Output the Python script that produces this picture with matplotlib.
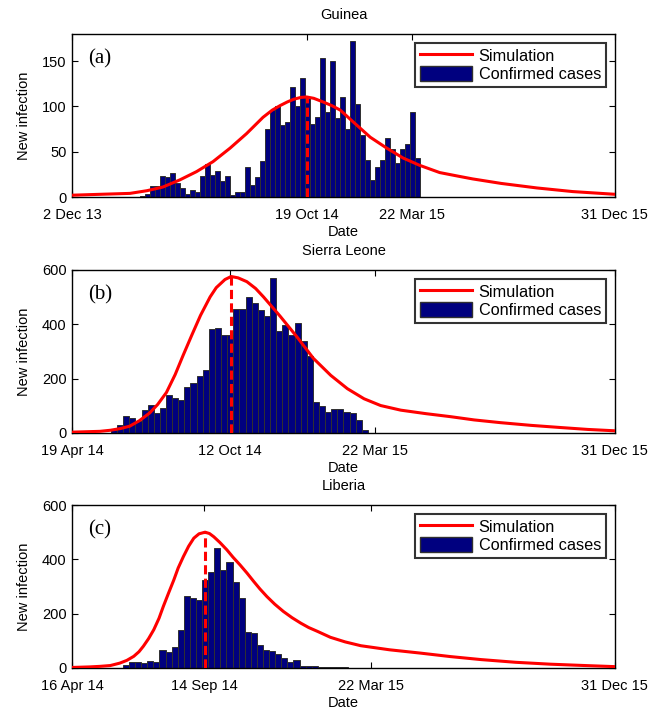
import numpy as np
import matplotlib.pyplot as plt
from matplotlib.patches import Patch
from matplotlib.lines import Line2D

plt.rcParams['font.family'] = ['Liberation Sans', 'DejaVu Sans']

# ---- Guinea: weekly confirmed cases, days counted from 2 Dec 13 ----
guinea_start = 98
guinea_cases = [1, 3, 12, 12, 23, 22, 27, 16, 10, 3, 8, 6, 23, 36, 24, 29, 18, 23, 2, 5,
                5, 33, 13, 22, 40, 75, 96, 101, 79, 83, 121, 100, 131, 110, 81, 88, 154, 94,
                150, 87, 111, 75, 172, 103, 69, 41, 19, 33, 41, 65, 53, 38, 53, 59, 94, 43]
guinea_sim_day = [0, 40, 81, 105, 127, 151, 174, 197, 221, 244, 267, 280, 291, 301, 310,
                  320, 328, 338, 351, 363, 375, 393, 417, 440, 463, 486, 514, 540, 560,
                  600, 650, 700, 759]
guinea_sim_val = [2, 3, 4, 7, 11, 19, 28, 39, 54, 70, 88, 96, 101, 105, 108,
                  110, 110.5, 109, 105, 101, 96, 83, 66, 54, 43, 35, 27, 23, 20,
                  15, 10, 6, 3]
guinea_peak = 328
guinea_ticks = [0, 328, 475, 759]
guinea_labels = ['2 Dec 13', '19 Oct 14', '22 Mar 15', '31 Dec 15']

# ---- Sierra Leone: days counted from 19 Apr 14 ----
sl_start = 48
sl_cases = [12, 28, 61, 56, 45, 84, 103, 74, 93, 141, 130, 122, 170, 184, 209, 230, 381,
            387, 361, 359, 457, 457, 499, 479, 454, 429, 572, 377, 396, 361, 406, 339, 283,
            114, 99, 78, 87, 90, 78, 74, 49, 10]
sl_sim_day = [0, 32, 44, 55, 66, 77, 89, 98, 108, 118, 127, 137, 147, 158, 165, 175, 182,
              190, 200, 210, 219, 238, 257, 276, 296, 315, 334, 353, 376, 405, 433, 460,
              490, 525, 559, 590, 621]
sl_sim_val = [3, 6, 10, 16, 25, 45, 74, 105, 149, 215, 285, 360, 433, 501, 535, 565, 576,
              571, 557, 532, 501, 430, 355, 275, 212, 163, 126, 101, 84, 71, 60, 48,
              38, 28, 20, 13, 8]
sl_peak = 182
sl_ticks = [0, 181, 346, 621]
sl_labels = ['19 Apr 14', '12 Oct 14', '22 Mar 15', '31 Dec 15']

# ---- Liberia: days counted from 16 Apr 14 ----
lib_start = 62
lib_cases = [12, 23, 22, 19, 25, 21, 65, 58, 79, 140, 265, 256, 249, 325, 354, 443, 360,
             391, 317, 258, 132, 128, 86, 68, 64, 53, 36, 21, 31, 9, 9, 6, 4, 4, 3, 2, 2, 1]
lib_sim_day = [0, 20, 32, 44, 55, 63, 71, 77, 82, 88, 94, 100, 105, 111, 117, 122, 128,
               134, 140, 146, 153, 158, 163, 170, 178, 185, 193, 201, 209, 216, 224, 233,
               243, 253, 263, 272, 282, 297, 314, 332, 365, 400, 435, 470, 510, 550, 590, 624]
lib_sim_val = [2, 4, 6, 9, 18, 28, 43, 60, 80, 108, 141, 183, 227, 276, 324, 368, 410,
               448, 478, 494, 500, 495, 483, 462, 435, 408, 380, 350, 318, 291, 263, 235,
               208, 185, 165, 149, 135, 113, 96, 82, 67, 55, 42, 31, 21, 14, 9, 5]
lib_peak = 153
lib_ticks = [0, 152, 344, 624]
lib_labels = ['16 Apr 14', '14 Sep 14', '22 Mar 15', '31 Dec 15']

panels = [
    ('Guinea', '(a)', guinea_start, guinea_cases, guinea_sim_day, guinea_sim_val,
     guinea_peak, guinea_ticks, guinea_labels, 180, [0, 50, 100, 150]),
    ('Sierra Leone', '(b)', sl_start, sl_cases, sl_sim_day, sl_sim_val,
     sl_peak, sl_ticks, sl_labels, 600, [0, 200, 400, 600]),
    ('Liberia', '(c)', lib_start, lib_cases, lib_sim_day, lib_sim_val,
     lib_peak, lib_ticks, lib_labels, 600, [0, 200, 400, 600]),
]
bottoms = [0.7233, 0.3919, 0.0618]

fig = plt.figure(figsize=(6.51, 7.12), dpi=100)

for (name, tag, start, cases, sday, sval, peak, ticks, labels, ymax, yticks), b in zip(panels, bottoms):
    ax = fig.add_axes([0.1106, b, 0.834, 0.2289])
    xs = start + 7 * np.arange(len(cases))
    ax.bar(xs, cases, width=7, color='#00007f', edgecolor='#303030', linewidth=0.7, zorder=2)
    ax.plot(sday, sval, color='red', linewidth=2.2, zorder=3, solid_joinstyle='round')
    peak_val = np.interp(peak, sday, sval)
    ax.plot([peak, peak], [0, peak_val], color='red', linestyle='--', linewidth=2.2,
            dashes=(3, 1.4), zorder=4)

    ax.set_xlim(ticks[0], ticks[-1])
    ax.set_ylim(0, ymax)
    ax.set_xticks(ticks)
    ax.set_xticklabels(labels)
    ax.set_yticks(yticks)
    ax.tick_params(direction='in', top=True, right=True, length=4, labelsize=10.5)
    ax.tick_params(axis='x', pad=8)
    ax.tick_params(axis='y', pad=4)
    for sp in ax.spines.values():
        sp.set_linewidth(1.0)
    ax.set_xlabel('Date', fontsize=10.5, labelpad=2)
    ax.set_ylabel('New infection', fontsize=10.5, labelpad=8)
    ax.set_title(name, fontsize=10.5, pad=11)
    ax.text(0.03, 0.82, tag, transform=ax.transAxes, fontsize=15,
            family=['Liberation Serif', 'DejaVu Serif'])

    handles = [Line2D([0], [0], color='red', linewidth=2.2),
               Patch(facecolor='#00007f', edgecolor='#303030')]
    leg = ax.legend(handles, ['Simulation', 'Confirmed cases'], loc='upper right',
                    fontsize=11.7, frameon=True, fancybox=False, handlelength=3.2,
                    handleheight=1.0, borderpad=0.3, labelspacing=0.15, handletextpad=0.4,
                    borderaxespad=0.55)
    leg.get_frame().set_edgecolor('black')
    leg.get_frame().set_linewidth(1.5)

fig.savefig('out.png', dpi=100)
